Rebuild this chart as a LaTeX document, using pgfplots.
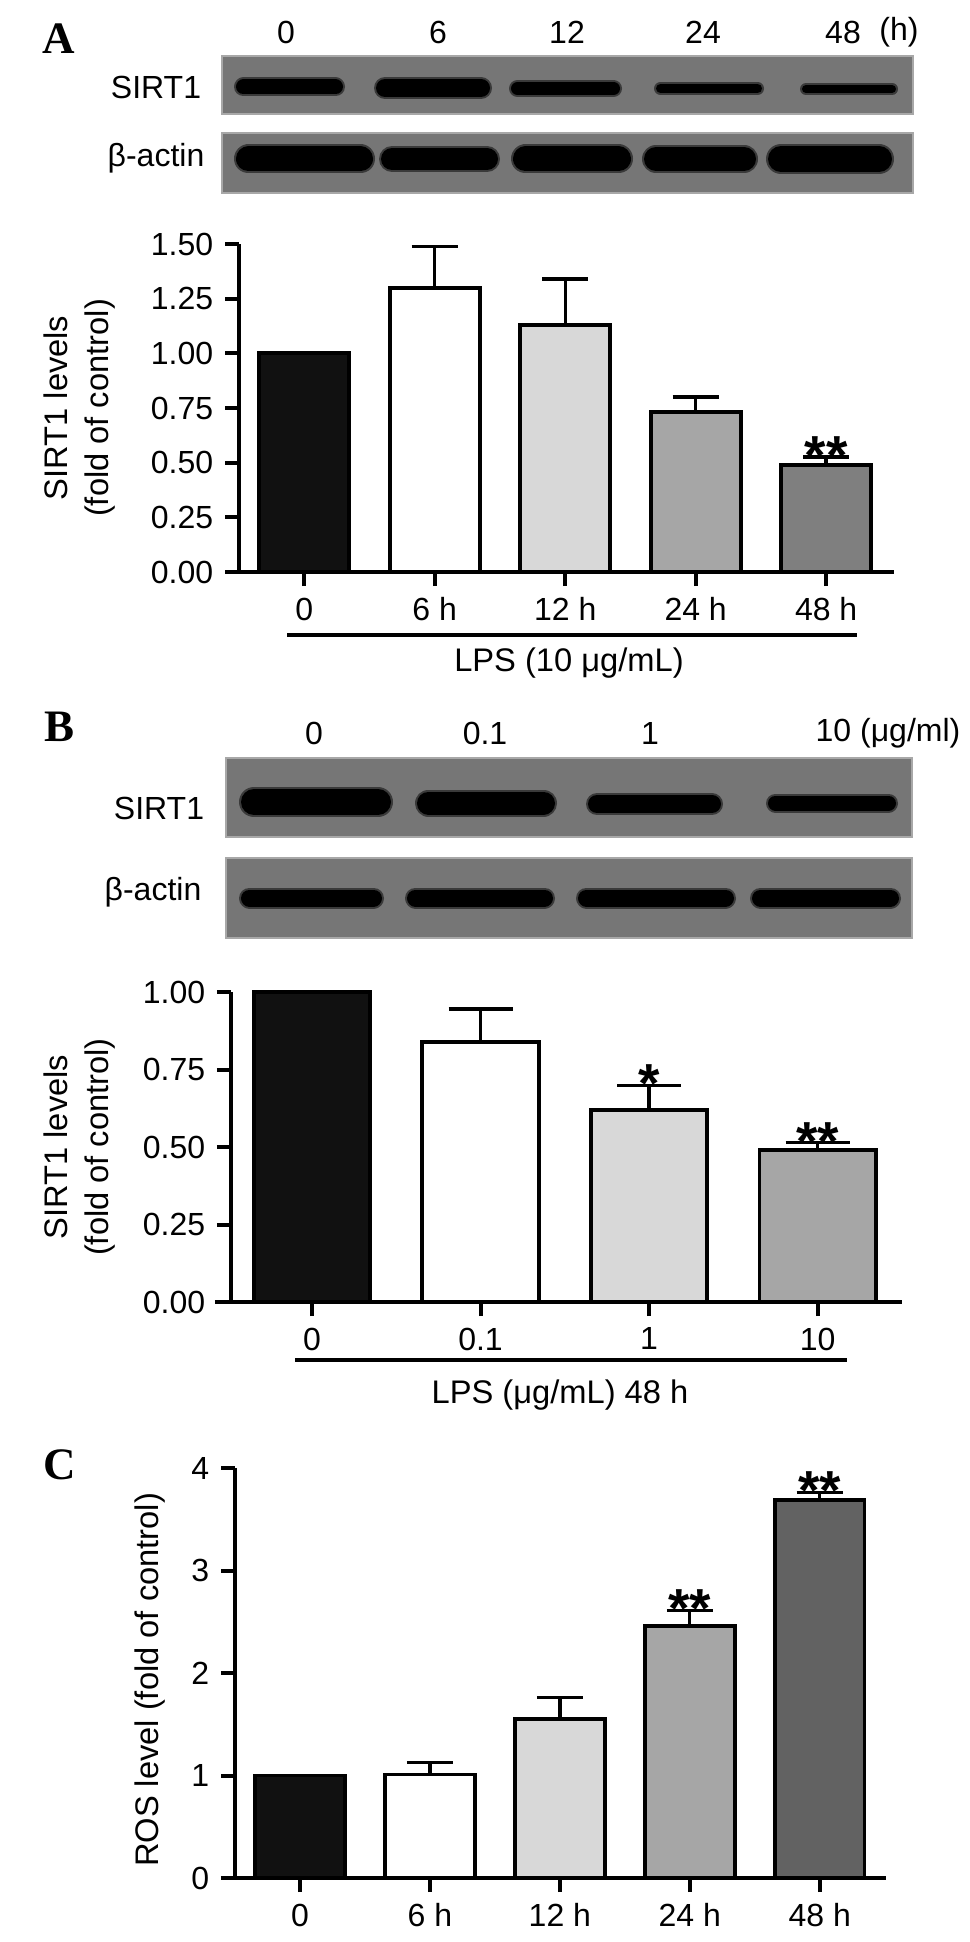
\documentclass[border=0pt]{standalone}
\usepackage{fontspec}
\setmainfont{Liberation Sans}
\newfontfamily\lserif{Liberation Serif}
\usepackage{pgfplots}
\pgfplotsset{compat=1.18}
\definecolor{cA}{HTML}{111111}
\definecolor{cL}{HTML}{D8D8D8}
\definecolor{cM}{HTML}{A6A6A6}
\definecolor{cD}{HTML}{7F7F7F}
\definecolor{cDD}{HTML}{626262}
\definecolor{blotbg}{HTML}{767676}
\definecolor{blotedge}{HTML}{A8A8A8}
\definecolor{soft}{HTML}{3A3A3A}
\newcommand\tf{\fontsize{9.6}{11}\selectfont}
\newcommand\lf{\fontsize{9.8}{12.3}\selectfont}
\newcommand\panelf{\fontsize{13.5}{15}\selectfont\lserif\bfseries}
\newcommand\astf{\fontsize{16.5}{16.5}\selectfont\bfseries}
\pgfplotsset{
  barax/.style={
    scale only axis, clip=false, anchor=south west,
    axis lines=left, axis line style={-, line width=1.4pt, black},
    tick align=outside, major tick length=4.2pt,
    tick style={line width=1.2pt, black},
    ticklabel style={font=\tf},
    /pgf/number format/assume math mode=true,
    ymin=0, xtick={0,...,4},
  },
  bar/.style={ybar, bar shift=0pt, bar width=0.69, draw=black, line width=1.15pt, fill=#1},
  errb/.style={error bars/.cd, y dir=plus, y explicit,
    error bar style={line width=1pt, black},
    error mark options={rotate=90, line width=1pt, black, mark size=#1}},
  stars/.style={draw=none, mark=none, nodes near coords, point meta=explicit symbolic,
    nodes near coords style={font=\astf, anchor=base, inner sep=0pt, yshift=-5.2pt}},
  blotax/.style={hide axis, scale only axis, clip=false, anchor=north west, y dir=reverse, no markers},
  band/.style={black, line width=#1, line cap=round},
  sband/.style={soft, line width=#1, line cap=round},
}
\begin{document}
\begin{tikzpicture}
\useasboundingbox (0,0) rectangle (291pt,-582.6pt);

% ---------- Blot A ----------
\begin{axis}[blotax, at={(66.6pt,-16.8pt)}, width=207.3pt, height=41.1pt,
  xmin=222, xmax=913, ymin=56, ymax=193]
\draw[blotedge, line width=0.4pt, fill=blotbg] (axis cs:222,56) rectangle (axis cs:913,114);
\draw[blotedge, line width=0.4pt, fill=blotbg] (axis cs:222,133) rectangle (axis cs:913,193);
\addplot[sband=5.7pt] coordinates {(243.5,87) (335.5,87)};
\addplot[band=4.5pt] coordinates {(243.5,87) (335.5,87)};
\addplot[sband=6.6pt] coordinates {(385,88) (481,88)};
\addplot[band=5.4pt] coordinates {(385,88) (481,88)};
\addplot[sband=5.1pt] coordinates {(517.5,88.5) (613.5,88.5)};
\addplot[band=3.9pt] coordinates {(517.5,88.5) (613.5,88.5)};
\addplot[sband=3.9pt] coordinates {(660.5,88.5) (757.5,88.5)};
\addplot[band=2.7pt] coordinates {(660.5,88.5) (757.5,88.5)};
\addplot[sband=3.6pt] coordinates {(806,89) (892,89)};
\addplot[band=2.4pt] coordinates {(806,89) (892,89)};
\addplot[sband=8.7pt] coordinates {(248.5,159) (360.5,159)};
\addplot[band=7.5pt] coordinates {(248.5,159) (360.5,159)};
\addplot[sband=7.8pt] coordinates {(392,159) (487,159)};
\addplot[band=6.6pt] coordinates {(392,159) (487,159)};
\addplot[sband=8.7pt] coordinates {(525.5,159) (618.5,159)};
\addplot[band=7.5pt] coordinates {(525.5,159) (618.5,159)};
\addplot[sband=8.4pt] coordinates {(656,159) (744,159)};
\addplot[band=7.2pt] coordinates {(656,159) (744,159)};
\addplot[sband=9.0pt] coordinates {(781,159) (879,159)};
\addplot[band=7.8pt] coordinates {(781,159) (879,159)};
\end{axis}

% ---------- Chart A ----------
\begin{axis}[barax, at={(71.7pt,-171.6pt)}, width=196.5pt, height=98.4pt,
  xmin=-0.5, xmax=4.52, ymax=1.5, ytick={0,0.25,...,1.5},
  yticklabel style={/pgf/number format/.cd, fixed, fixed zerofill, precision=2},
  xticklabels={0,6 h,12 h,24 h,48 h},
  ylabel={SIRT1 levels\\(fold of control)},
  ylabel style={align=center, font=\lf, at={(axis description cs:-0.2427,0.5)}, anchor=center}]
\addplot[bar=cA] coordinates {(0,1.00)};
\addplot[bar=white, errb=6.9pt] coordinates {(1,1.30) +- (0,0.19)};
\addplot[bar=cL, errb=6.9pt] coordinates {(2,1.13) +- (0,0.21)};
\addplot[bar=cM, errb=6.9pt] coordinates {(3,0.73) +- (0,0.07)};
\addplot[bar=cD, errb=6.9pt] coordinates {(4,0.49) +- (0,0.036)};
\addplot[stars] coordinates {(4,0.526) [**]};
\draw[line width=1.4pt] (axis cs:-0.607,0) -- (axis cs:-0.5,0);
\end{axis}

% ---------- Blot B ----------
\begin{axis}[blotax, at={(67.8pt,-227.4pt)}, width=205.8pt, height=54pt,
  xmin=226, xmax=912, ymin=758, ymax=938]
\draw[blotedge, line width=0.4pt, fill=blotbg] (axis cs:226,758) rectangle (axis cs:912,837);
\draw[blotedge, line width=0.4pt, fill=blotbg] (axis cs:226,858) rectangle (axis cs:912,938);
\addplot[sband=9.0pt] coordinates {(254,802) (378,802)};
\addplot[band=7.8pt] coordinates {(254,802) (378,802)};
\addplot[sband=8.1pt] coordinates {(428.5,803) (543.5,803)};
\addplot[band=6.9pt] coordinates {(428.5,803) (543.5,803)};
\addplot[sband=6.6pt] coordinates {(597,804) (712,804)};
\addplot[band=5.4pt] coordinates {(597,804) (712,804)};
\addplot[sband=5.7pt] coordinates {(775.5,803) (888.5,803)};
\addplot[band=4.5pt] coordinates {(775.5,803) (888.5,803)};
\addplot[sband=6.3pt] coordinates {(249.5,898) (373.5,898)};
\addplot[band=5.1pt] coordinates {(249.5,898) (373.5,898)};
\addplot[sband=6.3pt] coordinates {(415.5,898) (544.5,898)};
\addplot[band=5.1pt] coordinates {(415.5,898) (544.5,898)};
\addplot[sband=6.3pt] coordinates {(586.5,898) (725.5,898)};
\addplot[band=5.1pt] coordinates {(586.5,898) (725.5,898)};
\addplot[sband=6.3pt] coordinates {(760.5,898) (890.5,898)};
\addplot[band=5.1pt] coordinates {(760.5,898) (890.5,898)};
\end{axis}

% ---------- Chart B ----------
\begin{axis}[barax, at={(69.3pt,-390.6pt)}, width=201.3pt, height=93pt,
  xmin=-0.48, xmax=3.5, ymax=1, ytick={0,0.25,...,1}, xtick={0,...,3},
  yticklabel style={/pgf/number format/.cd, fixed, fixed zerofill, precision=2},
  xticklabels={0,0.1,1,10},
  ylabel={SIRT1 levels\\(fold of control)},
  ylabel style={align=center, font=\lf, at={(axis description cs:-0.225,0.5)}, anchor=center}]
\addplot[bar=cA] coordinates {(0,1.00)};
\addplot[bar=white, errb=9.6pt] coordinates {(1,0.84) +- (0,0.105)};
\addplot[bar=cL, errb=9.6pt] coordinates {(2,0.62) +- (0,0.078)};
\addplot[bar=cM, errb=9.6pt] coordinates {(3,0.49) +- (0,0.024)};
\addplot[stars] coordinates {(2,0.698) [*] (3,0.514) [**]};
\draw[line width=1.4pt] (axis cs:-0.575,0) -- (axis cs:-0.48,0);
\end{axis}

% ---------- Chart C ----------
\begin{axis}[barax, at={(70.5pt,-563.4pt)}, width=195.3pt, height=123pt,
  xmin=-0.5, xmax=4.51, ymax=4, ytick={0,1,2,3,4},
  xticklabels={0,6 h,12 h,24 h,48 h},
  ylabel={ROS level (fold of control)},
  ylabel style={font=\lf, at={(axis description cs:-0.130,0.483)}, anchor=center}]
\addplot[bar=cA] coordinates {(0,1.00)};
\addplot[bar=white, errb=6.9pt] coordinates {(1,1.01) +- (0,0.12)};
\addplot[bar=cL, errb=6.9pt] coordinates {(2,1.55) +- (0,0.21)};
\addplot[bar=cM, errb=6.9pt] coordinates {(3,2.46) +- (0,0.15)};
\addplot[bar=cDD, errb=6.9pt] coordinates {(4,3.69) +- (0,0.07)};
\addplot[stars] coordinates {(3,2.61) [**] (4,3.76) [**]};
\draw[line width=1.4pt] (axis cs:-0.608,0) -- (axis cs:-0.5,0);
\end{axis}

% ---------- texts ----------
\begin{scope}[x=0.3pt, y=-0.3pt]
\node[font=\panelf] at (59,39) {A};
\node[font=\panelf] at (60,727) {B};
\node[font=\panelf] at (60,1465) {C};
\node[font=\tf] at (286,32) {0};
\node[font=\tf] at (438,32) {6};
\node[font=\tf] at (567,32) {12};
\node[font=\tf] at (703,32) {24};
\node[font=\tf] at (843,32) {48};
\node[font=\tf] at (899,32) {(h)};
\node[font=\tf] at (156,87) {SIRT1};
\node[font=\tf] at (156,158) {β-actin};
\draw[line width=1.4pt] (287,635) -- (857,635);
\node[font=\lf] at (569,663) {LPS (10 μg/mL)};
\node[font=\tf] at (314,733) {0};
\node[font=\tf] at (485,733) {0.1};
\node[font=\tf] at (650,733) {1};
\node[font=\tf] at (888,733) {10 (μg/ml)};
\node[font=\tf] at (159,808) {SIRT1};
\node[font=\tf] at (153,892) {β-actin};
\draw[line width=1.4pt] (295,1360) -- (847,1360);
\node[font=\lf] at (560,1395) {LPS (μg/mL) 48 h};
\end{scope}
\end{tikzpicture}
\end{document}
